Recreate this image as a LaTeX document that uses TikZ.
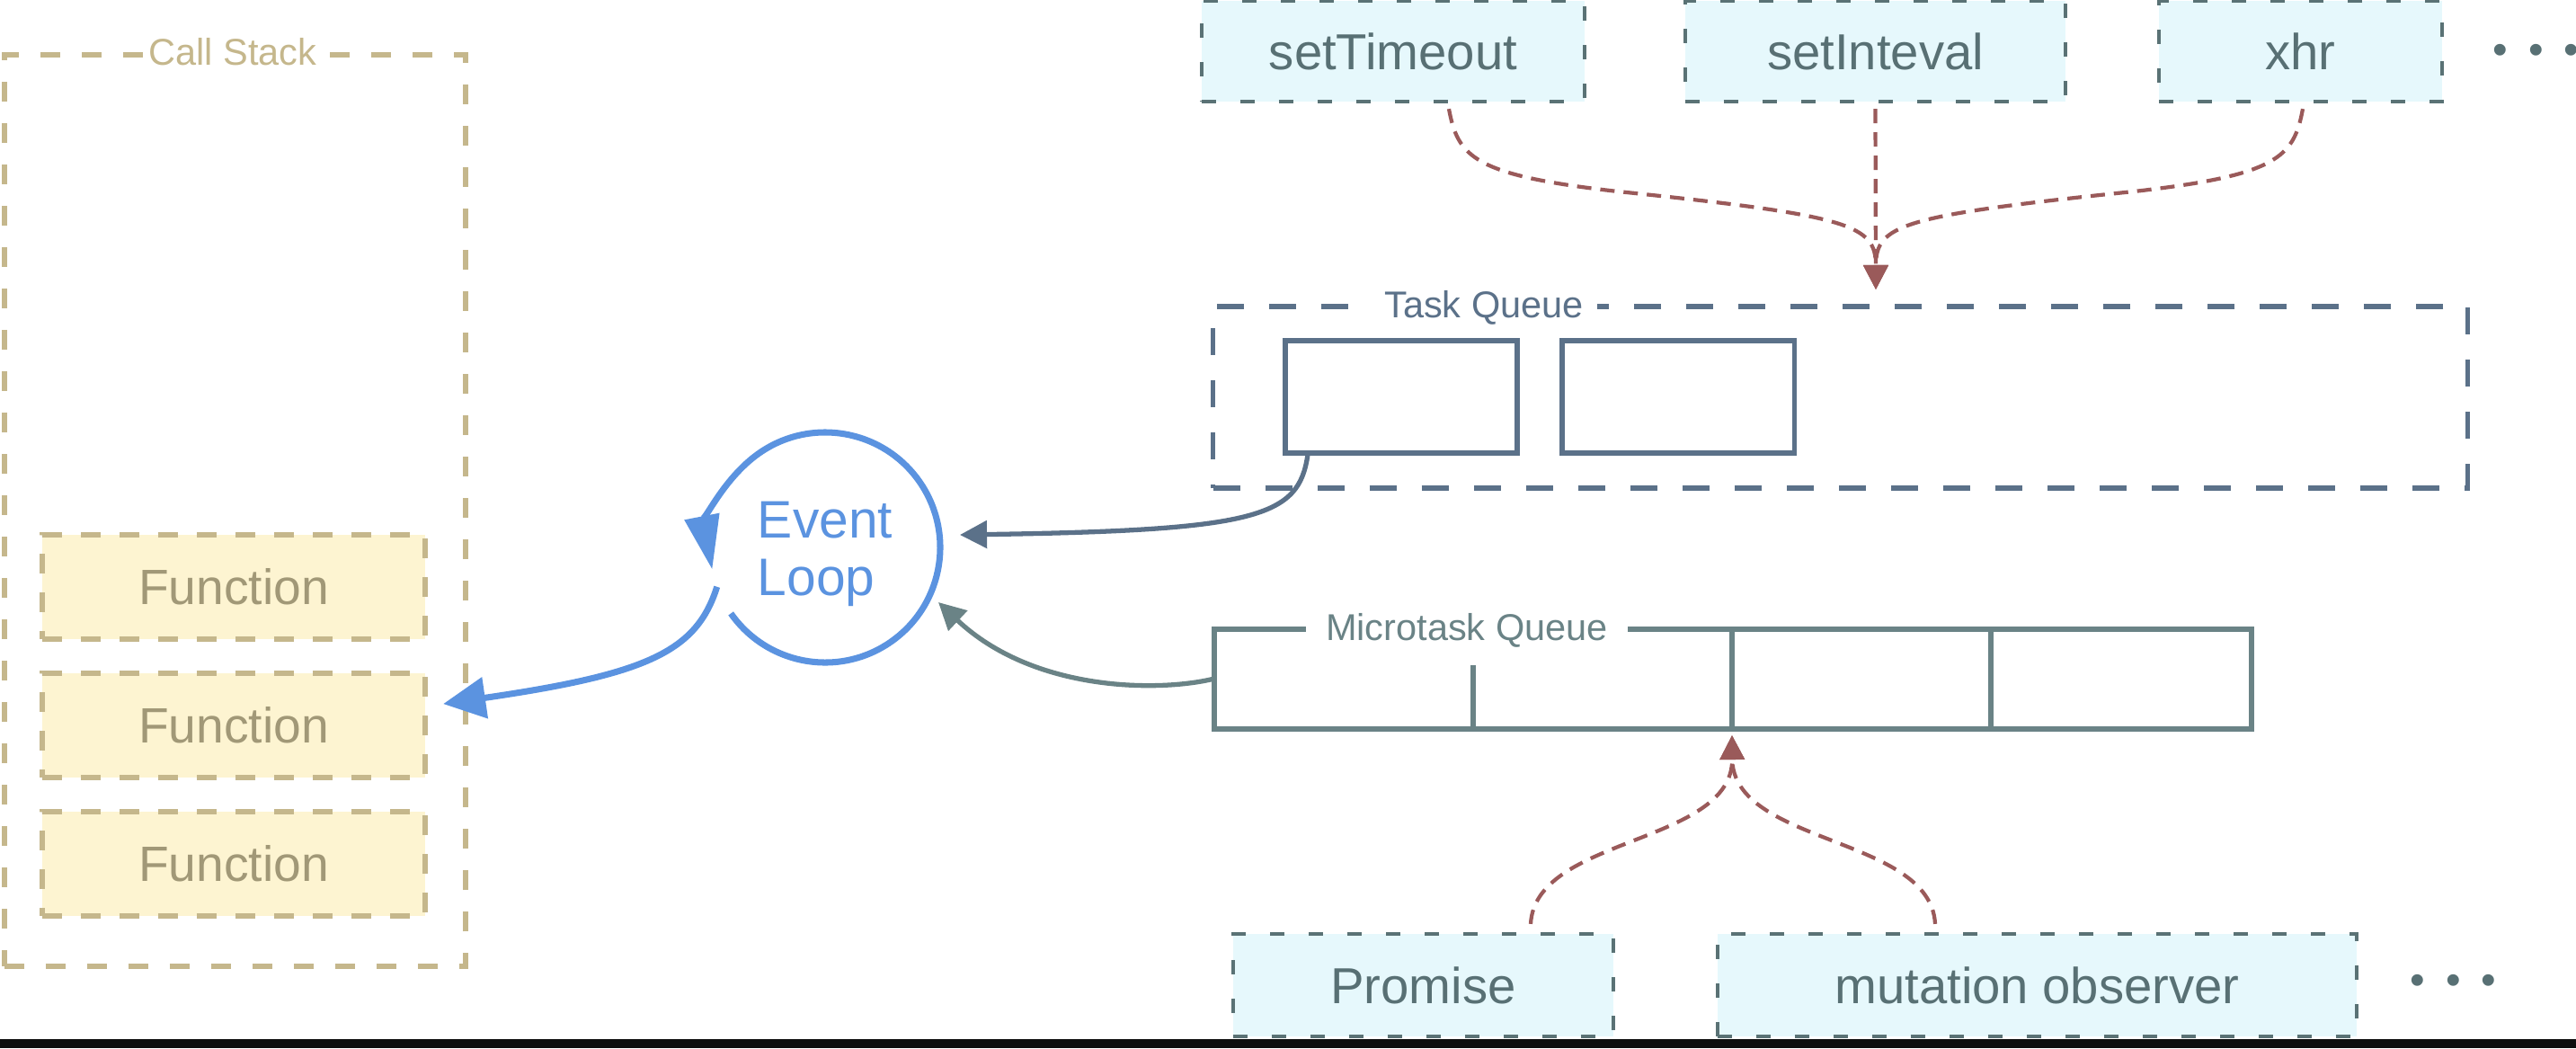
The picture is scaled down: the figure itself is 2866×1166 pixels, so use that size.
\documentclass[tikz,border=0pt]{standalone}
\usepackage{fontspec}
\setmainfont{Liberation Sans}
\usepackage{tikz}
\usetikzlibrary{calc,positioning,arrows.meta}

\definecolor{stacktan}{HTML}{C5B78C}
\definecolor{funcfill}{HTML}{FDF4D1}
\definecolor{functext}{HTML}{A19877}
\definecolor{loopblue}{HTML}{5B93E0}
\definecolor{taskslate}{HTML}{5B7189}
\definecolor{microgray}{HTML}{6A8386}
\definecolor{srcline}{HTML}{5A7275}
\definecolor{srcfill}{HTML}{E6F8FC}
\definecolor{srctext}{HTML}{587074}
\definecolor{pushred}{HTML}{9A5A5A}

\tikzstyle{stackline}  = [rectangle, inner sep=0pt, draw=stacktan, line width=1.6pt, dash pattern=on 0.22cm off 0.24cm]
\tikzstyle{funcbox}    = [rectangle, minimum width=4.26cm, minimum height=1.16cm, inner sep=0pt, outer sep=0pt, fill=funcfill, draw=stacktan, line width=1.6pt, dash pattern=on 0.22cm off 0.21cm, text=functext, font=\fontsize{15.7}{19}\selectfont]
\tikzstyle{srcbox}     = [rectangle, minimum height=1.12cm, inner sep=0pt, fill=srcfill, draw=srcline, line width=1.2pt, dash pattern=on 0.16cm off 0.27cm, text=srctext, font=\fontsize{16}{19}\selectfont]
\tikzstyle{taskbox}    = [rectangle, minimum width=2.58cm, minimum height=1.25cm, inner sep=0pt, outer sep=0pt, draw=taskslate, line width=1.5pt]
\tikzstyle{qlabel}     = [fill=white, inner ysep=0.08cm, font=\fontsize{11.8}{14}\selectfont]
\tikzstyle{moredots}   = [text=srctext, inner sep=0pt, font=\fontsize{13.5}{16}\selectfont]
\tikzstyle{pusharrow}  = [pushred, line width=1.2pt, dash pattern=on 0.16cm off 0.1cm, -{Triangle[length=0.27cm,width=0.27cm]}]
\tikzstyle{taskarrow}  = [taskslate, line width=1.5pt, -{Triangle[length=0.3cm,width=0.3cm]}]
\tikzstyle{microarrow} = [microgray, line width=1.5pt, -{Triangle[length=0.3cm,width=0.3cm]}]
\tikzstyle{loopline}   = [loopblue, line width=2pt]

\newcommand{\threedots}{•\kern0.23cm•\kern0.23cm•}

\begin{document}
\begin{tikzpicture}[x=0.01cm, y=-0.01cm]
        \useasboundingbox (0,0) rectangle (2866,1166);

        \node[stackline, minimum width=5.13cm, minimum height=10.14cm] (stack) at (261.5,568) {};
        \node[qlabel, text=stacktan, anchor=base, inner xsep=0.06cm] (stacklabel) at (259,72) {Call Stack};

        \node[funcbox] (func1) at (260,653) {Function};
        \node[funcbox, below=0.38cm of func1] (func2) {Function};
        \node[funcbox, below=0.38cm of func2] (func3) {Function};

        \node[srcbox, minimum width=4.26cm] (timeout) at (1550,57) {setTimeout};
        \node[srcbox, minimum width=4.23cm] (interval) at (2086.5,57) {setInteval};
        \node[srcbox, minimum width=3.15cm] (xhr) at (2559.5,57) {xhr};
        \node[moredots, anchor=west] (moresrc) at (2773,60) {\threedots};

        \node[rectangle, inner sep=0pt, draw=taskslate, line width=1.5pt, dash pattern=on 0.3cm off 0.28cm, minimum width=13.95cm, minimum height=2.02cm] (taskq) at (2047.5,442) {};
        \node[qlabel, text=taskslate, anchor=base, inner xsep=0.15cm] (tasklabel) at (1651,353) {Task Queue};
        \node[taskbox] (task1) at (1559,441.5) {};
        \node[taskbox, right=0.5cm of task1] (task2) {};

        \draw[microgray, line width=1.7pt] (1351,700) rectangle (2505,811);
        \draw[microgray, line width=1.7pt] (1639,740) -- (1639,811) (1927,700) -- (1927,811) (2215,700) -- (2215,811);
        \node[qlabel, text=microgray, anchor=base, inner xsep=0.22cm] (microlabel) at (1632,712) {Microtask Queue};
        \coordinate (microleft) at (1351,755);
        \coordinate (microin) at (1927,818);

        \node[srcbox, minimum width=4.23cm, minimum height=1.14cm] (promise) at (1583.5,1096) {Promise};
        \node[srcbox, minimum width=7.11cm, minimum height=1.14cm] (mutation) at (2266.5,1096) {mutation observer};
        \node[moredots, anchor=west] (moremicro) at (2681,1095) {\threedots};

        \coordinate (lc) at (918,609);
        \node[text=loopblue, align=left, font=\fontsize{16.7}{18.2}\selectfont] (loop) at (918,616) {Event\\Loop};
        \draw[loopline, -{Triangle[length=0.6cm,width=0.38cm]}] ($(lc)+(145:128)$) arc[start angle=145, end angle=-191, radius=128];
        \coordinate (loopout) at ($(lc)+(160:128)$);
        \coordinate (loopright) at (1068,595);
        \coordinate (looplow) at (1044,670);

        \draw[loopline, -{Triangle[length=0.47cm,width=0.45cm]}] (loopout) .. controls (775,725) and (720,750) .. ($(func2.east)+(20,-24)$);
        \draw[taskarrow] ($(task1.south west)+(25,2)$) .. controls (1445,575) and (1400,590) .. (loopright);
        \draw[microarrow] (microleft) .. controls (1290,770) and (1150,770) .. (looplow);

        \coordinate (taskin) at (2087,322);
        \draw[pusharrow] ($(timeout.south)+(62,6)$) .. controls (1622,175) and (1640,195) .. (1800,213) .. controls (2060,240) and (2087,250) .. (taskin);
        \draw[pusharrow] ($(interval.south)+(0,6)$) -- (taskin);
        \draw[pusharrow] ($(xhr.south)+(2.5,6)$) .. controls (2552,175) and (2534,195) .. (2374,213) .. controls (2114,240) and (2087,250) .. (taskin);

        \draw[pusharrow] ($(promise.north)+(119.5,-9)$) .. controls (1708,930) and (1928,940) .. (microin);
        \draw[pusharrow] ($(mutation.north)+(-113.5,-9)$) .. controls (2148,930) and (1928,940) .. (microin);

        \fill[black!95] (0,1156) rectangle (2866,1166);
    \end{tikzpicture}
\end{document}
